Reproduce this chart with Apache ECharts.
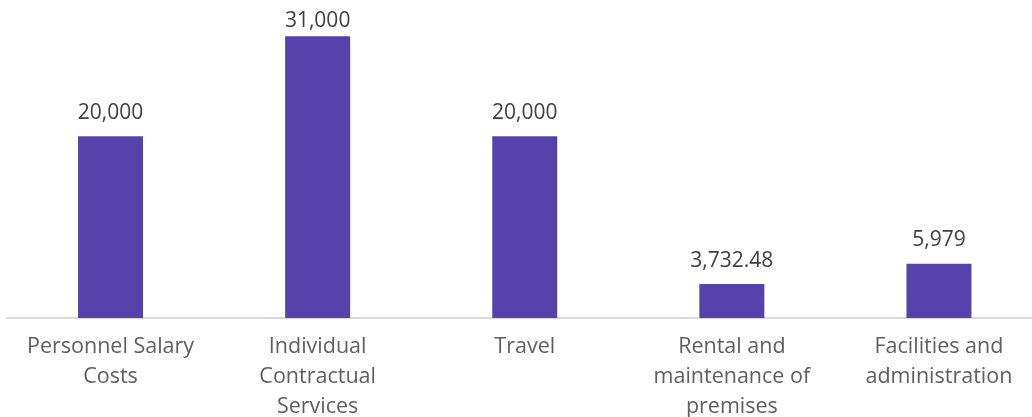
<!DOCTYPE html>
<html>
<head>
<meta charset="utf-8">
<script src="https://cdn.jsdelivr.net/npm/echarts@6/dist/echarts.min.js"></script>
<style>
  html, body { margin: 0; padding: 0; background: #ffffff; }
  #chart { width: 1032px; height: 417px; }
</style>
</head>
<body>
<div id="chart"></div>
<script>
// Budget lines and amounts
const categories = [
  'Personnel Salary\nCosts',
  'Individual\nContractual\nServices',
  'Travel',
  'Rental and\nmaintenance of\npremises',
  'Facilities and\nadministration'
];
const amounts = [20000, 31000, 20000, 3732.48, 5979];

const fmt = v => v.toLocaleString('en-US', { maximumFractionDigits: 2 });

// The tallest bar's label sits closer to its bar so it stays inside the canvas
const peak = Math.max(...amounts);
const barData = amounts.map(v => v === peak
  ? { value: v, label: { distance: 4.5 } }
  : v);

const chart = echarts.init(document.getElementById('chart'), null, { renderer: 'canvas' });
chart.setOption({
  animation: false,
  grid: { left: 7, right: -10.5, top: 0, bottom: 99, containLabel: false, outerBoundsMode: 'none' },
  xAxis: {
    type: 'category',
    data: categories,
    axisLine: { lineStyle: { color: '#d9d9d9', width: 2 } },
    axisTick: { show: false },
    axisLabel: {
      interval: 0,
      margin: 14,
      color: '#5f5f5f',
      fontFamily: 'Open Sans',
      fontSize: 21.5,
      lineHeight: 30
    }
  },
  yAxis: {
    type: 'value',
    min: 0,
    max: 35000,
    show: false,
    splitLine: { show: false }
  },
  series: [{
    type: 'bar',
    data: barData,
    barWidth: 65,
    itemStyle: { color: '#5543AB' },
    label: {
      show: true,
      position: 'top',
      distance: 13,
      color: '#404040',
      fontFamily: 'Open Sans',
      fontSize: 21,
      formatter: p => fmt(p.value)
    }
  }]
});
</script>
</body>
</html>
